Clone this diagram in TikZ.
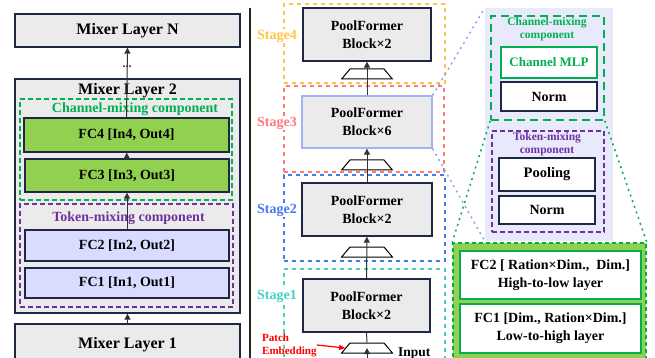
\documentclass[tikz,border=0pt]{standalone}
\usepackage{fontspec}
\setmainfont{Liberation Serif}
\newfontfamily\diagfont{Liberation Serif}
\usetikzlibrary{arrows.meta,shapes.geometric,positioning}

\definecolor{navy}{RGB}{30,40,70}
\definecolor{boxgray}{RGB}{235,235,235}
\definecolor{fcgreen}{RGB}{146,208,80}
\definecolor{fcblue}{RGB}{217,220,255}
\definecolor{lavpanel}{RGB}{232,234,252}
\definecolor{mixgreen}{RGB}{0,176,80}
\definecolor{mixpurple}{RGB}{112,48,160}
\definecolor{stfour}{RGB}{255,196,70}
\definecolor{stthree}{RGB}{255,120,125}
\definecolor{sttwo}{RGB}{70,120,240}
\definecolor{stone}{RGB}{70,210,195}
\definecolor{blkblue}{RGB}{160,180,245}
\definecolor{linkblue}{RGB}{140,165,240}

\tikzset{
  fs/.style 2 args={font=\diagfont\fontsize{#1}{#2}\selectfont\bfseries},
  wh/.style 2 args={minimum width=#1pt, minimum height=#2pt},
  box/.style={draw=navy, line width=1.3pt, inner sep=0pt, fill=boxgray},
  grp/.style={line width=1.3pt, dash pattern=on 5pt off 3pt, inner sep=0pt},
  stagebox/.style={line width=1.5pt, dash pattern=on 4pt off 4pt, inner sep=0pt},
  stagelbl/.style={fs={14}{16}, fill=white, inner sep=1pt},
  flow/.style={-{Triangle[length=6pt,width=6pt]}, line width=1pt, black!80},
  pe/.style={trapezium, draw, line width=1pt, trapezium left angle=50,
    trapezium right angle=50, inner sep=0pt},
  link/.style={line width=1.5pt, dash pattern=on 2pt off 4pt},
}
\newcommand{\pebody}{\hspace*{34pt}\rule{0pt}{10pt}}

\begin{document}
\begin{tikzpicture}[x=1pt, y=-1pt]
\useasboundingbox (0,0) rectangle (655,358);

% Mixer layers
\node[box, wh={225}{33}, fs={16}{18}] (mixN) at (127.5,30.5) {Mixer Layer N};
\node[box, wh={225}{234}] (mix2) at (127.5,196) {};
\node[fs={16}{18}] (mix2t) at (127.5,91) {Mixer Layer 2};
\node[box, wh={225}{42}, fs={16}{18}] (mix1) at (127.5,345) {Mixer Layer 1};

% Channel-mixing part
\node[grp, draw=mixgreen, wh={212}{101}] (chgrp) at (126,149.5) {};
\node[fs={14}{16}, text=mixgreen] (chlbl) at (135,109) {Channel-mixing component};
\node[box, fill=fcgreen, wh={205}{34}, fs={14}{16}] (fc4) at (126.5,135) {FC4 [In4, Out4]};
\node[box, fill=fcgreen, wh={204}{33}, fs={14}{16}] (fc3) at (127,175.5) {FC3 [In3, Out3]};

% Token-mixing part
\node[grp, draw=mixpurple, wh={213}{103}] (tkgrp) at (126.5,255.5) {};
\node[fs={14}{16}, text=mixpurple] (tklbl) at (128.5,218) {Token-mixing component};
\node[box, fill=fcblue, wh={204}{31}, fs={14}{16}] (fc2) at (127,245.5) {FC2 [In2, Out2]};
\node[box, fill=fcblue, wh={204}{30}, fs={14}{16}] (fc1) at (127,283) {FC1 [In1, Out1]};

\draw[flow] (fc3) -- (fc4);
\draw[flow] (fc2) -- (fc3);
\draw[flow] (mix1) -- (mix2);
\draw[flow] (fc4.north) -- node[fs={12}{12}, pos=0.72] (dots) {...} (mixN.south);

% separator
\draw[line width=2pt, black!85] (250,8) -- (250,358);

% Stages
\node[stagebox, draw=stfour, wh={161}{79}] (st4) at (364.5,43.5) {};
\node[stagebox, draw=stthree, wh={160}{86}] (st3) at (364,129) {};
\node[stagebox, draw=sttwo, wh={161}{86}] (st2) at (364.5,218) {};
\node[stagebox, draw=stone, wh={161}{106}] (st1) at (364.5,322) {};
\node[stagelbl, text=stfour] (lbl4) at (277,36) {Stage4};
\node[stagelbl, text=stthree] (lbl3) at (277,123) {Stage3};
\node[stagelbl, text=sttwo] (lbl2) at (277,210) {Stage2};
\node[stagelbl, text=stone] (lbl1) at (277,296) {Stage1};

\node[box, wh={128}{53}, fs={14}{18}, align=center] (blk4) at (367,34.5) {PoolFormer\\Block×2};
\node[box, draw=blkblue, wh={130}{52}, fs={14}{18}, align=center] (blk3) at (367,122) {PoolFormer\\Block×6};
\node[box, wh={130}{53}, fs={14}{18}, align=center] (blk2) at (367,209.5) {PoolFormer\\Block×2};
\node[box, wh={127}{53}, fs={14}{18}, align=center] (blk1) at (366.5,305.5) {PoolFormer\\Block×2};

% patch embeddings
\node[pe] (pe4) at (367,74) {\pebody};
\node[pe] (pe3) at (367,165) {\pebody};
\node[pe] (pe2) at (367,252) {\pebody};
\node[pe] (pe1) at (367,348) {\pebody};

\draw[flow] (blk3) -- (blk4);
\draw[flow] (blk2) -- (blk3);
\draw[flow] (blk1) -- (blk2);
\draw[line width=1pt, black!80] (pe1.north) -- (blk1.south);
\coordinate (inp) at (367,372);
\draw[flow] (inp) -- (pe1.center);
\node[fs={13.5}{15}, anchor=north west, inner sep=0pt] (inlbl) at (398,347) {Input};
\node[fs={11}{13}, text=red, align=left, anchor=west, inner sep=0pt] (pelbl) at (262,345) {Patch\\Embedding};
\draw[-{Triangle[length=6pt,width=5pt]}, line width=1.2pt, red] (pelbl.east) -- (pe1.west);

% Right panel
\node[fill=lavpanel, wh={128}{233}, inner sep=0pt] (lav) at (549,124.5) {};
\node[grp, draw=mixgreen, line width=1.6pt, dash pattern=on 8pt off 5pt, wh={113}{104}] (chmix) at (547.5,68) {};
\node[fs={11.5}{13}, text=mixgreen, align=center] (chmixl) at (547,29.5) {Channel-mixing\\component};
\node[box, draw=mixgreen, fill=white, text=mixgreen, wh={96}{31}, fs={13}{15}] (mlp) at (549,62.5) {Channel MLP};
\node[box, fill=white, wh={96}{29}, fs={14}{16}] (norm2) at (549,96.5) {Norm};
\node[grp, draw=mixpurple, wh={112}{101}] (tkmix) at (548,181.5) {};
\node[fs={11.5}{13}, text=mixpurple, align=center] (tkmixl) at (547,144) {Token-mixing\\component};
\node[box, fill=white, wh={96}{33}, fs={14.5}{16}] (pool) at (547,174.5) {Pooling};
\node[box, fill=white, wh={96}{28}, fs={14}{16}] (norm1) at (547,210) {Norm};

\node[fill=fcgreen, draw=mixgreen, line width=1.5pt, dash pattern=on 4pt off 3pt, wh={193}{127}, inner sep=0pt] (grn) at (549.5,306.5) {};
\node[box, draw=mixgreen, line width=2.5pt, fill=white, wh={181}{48}, fs={14}{18}, align=center] (fcb2) at (550.5,275) {FC2 [ Ration×Dim.,~ Dim.]\\High-to-low layer};
\node[box, draw=mixgreen, line width=2.5pt, fill=white, wh={181}{49}, fs={14}{18}, align=center] (fcb1) at (550.5,328.5) {FC1 [Dim., Ration×Dim.]\\Low-to-high layer};

% zoom links
\draw[link, linkblue] (blk3.north east) -- (lav.north west);
\draw[link, linkblue] (blk3.south east) -- (lav.south west);
\draw[link, mixgreen] (chmix.south west) -- (grn.north west);
\draw[link, mixgreen] (chmix.south east) -- (grn.north east);
\end{tikzpicture}
\end{document}
